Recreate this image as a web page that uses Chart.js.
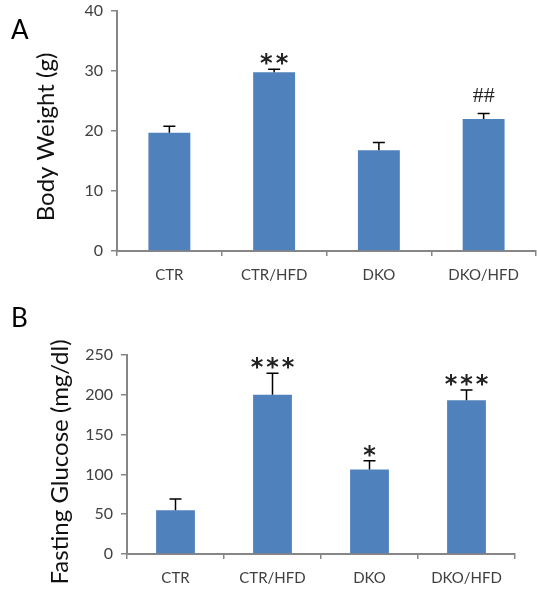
<!DOCTYPE html>
<html>
<head>
<meta charset="utf-8">
<script src="https://cdn.jsdelivr.net/npm/chart.js@4.4.1/dist/chart.umd.min.js"></script>
<style>
html, body { margin: 0; padding: 0; background: #fff; }
canvas { position: absolute; left: 0; }
#chartA { top: 0; }
#chartB { top: 300px; }
</style>
</head>
<body>
<canvas id="chartA" width="537" height="300"></canvas>
<canvas id="chartB" width="537" height="303"></canvas>
<script>
// grupos
const groups = ['CTR', 'CTR/HFD', 'DKO', 'DKO/HFD']

// painel A: peso corporal
const weightMean = [19.7, 29.8, 16.8, 22.0]
const weightErr = [1.1, 0.5, 1.3, 0.9]
const weightMarks = ['', '**', '', '##']
const weightTicks = [0, 10, 20, 30, 40]

// painel B: glicemia de jejum
const glucoseMean = [55, 200, 106, 193]
const glucoseErr = [14, 27, 11, 13]
const glucoseMarks = ['', '***', '*', '***']
const glucoseTicks = [0, 50, 100, 150, 200, 250]

const blue = '#4f81bd'
const axisGray = '#868686'
const textGray = '#404040'

//desenha barras de erro, marcas de significancia, titulo do eixo e letra do painel
const extras = {
    id: 'extras',
    afterDatasetsDraw(chart, args, opts) {
        const ctx = chart.ctx
        const xs = chart.scales.x
        const ys = chart.scales.y
        const vals = chart.data.datasets[0].data
        ctx.save()
        ctx.strokeStyle = '#000'
        ctx.lineWidth = 1.5
        vals.forEach(function(v, i){
            const cx = xs.getPixelForValue(i)
            const y0 = ys.getPixelForValue(v)
            const y1 = ys.getPixelForValue(v + opts.err[i])
            ctx.beginPath()
            ctx.moveTo(cx, y0)
            ctx.lineTo(cx, y1)
            ctx.moveTo(cx - 6, y1)
            ctx.lineTo(cx + 6, y1)
            ctx.stroke()
            const mark = opts.marks[i]
            if(mark){
                ctx.fillStyle = '#222'
                ctx.textAlign = 'center'
                ctx.textBaseline = 'alphabetic'
                if(mark.indexOf('#') >= 0){
                    ctx.font = '22px "Liberation Serif"'
                    ctx.letterSpacing = '0px'
                    ctx.fillText(mark, cx, y1 - 12)
                } else {
                    ctx.font = 'bold 24px "DejaVu Sans"'
                    ctx.letterSpacing = '3px'
                    ctx.fillText(mark, cx + 1.5, y1 + 2)
                }
            }
        })
        ctx.letterSpacing = '0px'

        // titulo do eixo y (girado)
        ctx.save()
        ctx.translate(opts.titleX, opts.titleY)
        ctx.rotate(-Math.PI / 2)
        ctx.fillStyle = '#111'
        ctx.font = '24px Lato'
        ctx.textAlign = 'center'
        ctx.textBaseline = 'middle'
        ctx.fillText(opts.title, 0, 0)
        ctx.restore()

        ctx.fillStyle = '#000'
        ctx.font = '26px Lato'
        ctx.textAlign = 'left'
        ctx.textBaseline = 'top'
        ctx.fillText(opts.letter, opts.letterX, opts.letterY)
        ctx.restore()
    }
}

function makeChart(canvas, values, ticks, axisWidth, pad, extra){
    return new Chart(canvas, {
        type: 'bar',
        data: {
            labels: groups,
            datasets: [{
                data: values,
                backgroundColor: blue,
                barPercentage: 0.4,
                categoryPercentage: 1.0
            }]
        },
        options: {
            responsive: false,
            animation: false,
            layout: { padding: pad },
            plugins: {
                legend: { display: false },
                tooltip: { enabled: false },
                extras: extra
            },
            scales: {
                x: {
                    grid: { offset: true, drawOnChartArea: false, tickLength: 5, tickColor: axisGray, lineWidth: 1.5 },
                    border: { color: axisGray, width: 2 },
                    ticks: { color: textGray, font: { family: 'Lato', size: 15 }, padding: 10, maxRotation: 0 },
                    afterFit: function(s){ s.height = 49 }
                },
                y: {
                    min: ticks[0],
                    max: ticks[ticks.length - 1],
                    ticks: { stepSize: ticks[1] - ticks[0], color: textGray, font: { family: 'Lato', size: 16 }, padding: 8 },
                    grid: { drawOnChartArea: false, tickLength: 6, tickColor: axisGray, lineWidth: 1.5 },
                    border: { color: axisGray, width: 2 },
                    afterFit: function(s){
                        s.width = axisWidth
                        s.paddingTop = 0
                        s.paddingBottom = 0
                    }
                }
            }
        },
        plugins: [extras]
    })
}

let graficoA = makeChart(document.querySelector('canvas#chartA'), weightMean, weightTicks,
    117, { top: 11, right: 1, bottom: 0, left: 0 },
    { err: weightErr, marks: weightMarks, title: 'Body Weight (g)', titleX: 46, titleY: 137,
      letter: 'A', letterX: 11, letterY: 18 })

let graficoB = makeChart(document.querySelector('canvas#chartB'), glucoseMean, glucoseTicks,
    127, { top: 55, right: 22, bottom: 0, left: 0 },
    { err: glucoseErr, marks: glucoseMarks, title: 'Fasting Glucose (mg/dl)', titleX: 60, titleY: 162,
      letter: 'B', letterX: 11, letterY: 6 })
</script>
</body>
</html>
